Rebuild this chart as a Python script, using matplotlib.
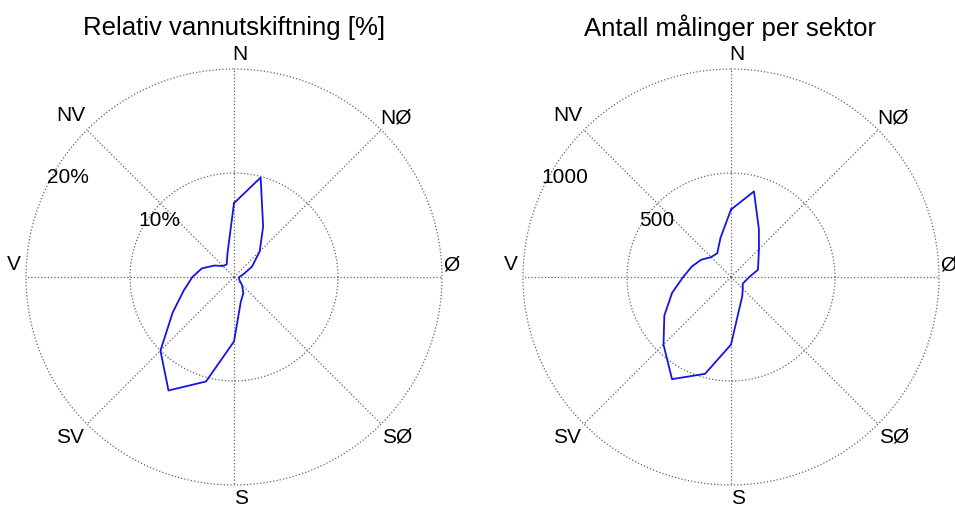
import numpy as np
import matplotlib.pyplot as plt

plt.rcParams['font.family'] = ['Liberation Sans', 'DejaVu Sans']

# sector centre directions (deg, clockwise from north)
sector_deg = [0, 15, 30, 45, 60, 75, 90, 105, 120, 135, 150, 165,
              180, 195, 210, 225, 240, 255, 270, 285, 300, 315, 330, 345]
# relative water exchange per sector [%]
exchange_pct = [7.1, 9.9, 5.6, 3.5, 2.0, 0.9, 0.5, 0.5, 0.6, 1.1, 1.8, 2.5,
                6.2, 10.4, 12.6, 10.0, 6.8, 5.0, 4.0, 3.2, 2.2, 1.5, 1.4, 2.4]
# number of measurements per sector
n_measure = [324, 426, 268, 190, 152, 134, 88, 72, 65, 80, 108, 156,
             325, 482, 567, 459, 370, 293, 230, 195, 166, 135, 132, 195]

compass = ['N', 'NØ', 'Ø', 'SØ', 'S', 'SV', 'V', 'NV']
titles = ['Relativ vannutskiftning [%]', 'Antall målinger per sektor']
rings = [[10, 20], [500, 1000]]
ring_fmt = ['{}%', '{}']

# pixel offsets of the compass labels from the outer circle (matlab look)
lab_off = [(6, 14), (15, 12), (9, 12), (16, -13),
           (7, -13), (-17, -13), (-12, 12), (-16, 14)]


def rose(ax, vals, ring_vals, fmt, title, cx):
    th = np.deg2rad(np.r_[sector_deg, sector_deg[0]])
    r = np.r_[vals, vals[0]]
    rmax = ring_vals[-1]
    ax.set_theta_zero_location('N')
    ax.set_theta_direction(-1)
    ax.set_ylim(0, rmax)
    ax.grid(False)
    ax.set_xticks([])
    ax.set_yticks([])
    ax.spines['polar'].set_visible(False)
    gstyle = dict(ls=':', color='0.4', lw=0.9, clip_on=False)
    circ = np.linspace(0, 2 * np.pi, 361)
    for rv in ring_vals:
        ax.plot(circ, np.full_like(circ, rv), **gstyle)
    for a in range(0, 360, 45):
        t = np.deg2rad(a)
        ax.plot([t, t], [0, rmax], **gstyle)
    for i, lab in enumerate(compass):
        a = np.deg2rad(i * 45)
        ax.annotate(lab, xy=(a, rmax), xytext=lab_off[i], textcoords='offset pixels',
                    ha='center', va='center', fontsize=15, annotation_clip=False)
    ax.text(np.deg2rad(307), ring_vals[0] * 0.9, fmt.format(ring_vals[0]),
            ha='center', va='center', fontsize=15)
    ax.text(np.deg2rad(301), ring_vals[1] * 0.933, fmt.format(ring_vals[1]),
            ha='center', va='center', fontsize=15)
    ax.plot(th, r, color='#1414e6', lw=1.3)
    ax.figure.text(cx, 1 - 28 / 507, title, ha='center', va='center', fontsize=18.5)


fig = plt.figure(figsize=(9.55, 5.07), dpi=100)
ax1 = fig.add_axes([26 / 955, 22 / 507, 416 / 955, 416 / 507], projection='polar')
ax2 = fig.add_axes([523 / 955, 22 / 507, 416 / 955, 416 / 507], projection='polar')
rose(ax1, exchange_pct, rings[0], ring_fmt[0], titles[0], 234 / 955)
rose(ax2, n_measure, rings[1], ring_fmt[1], titles[1], 730 / 955)

fig.savefig('out.png', dpi=100)
